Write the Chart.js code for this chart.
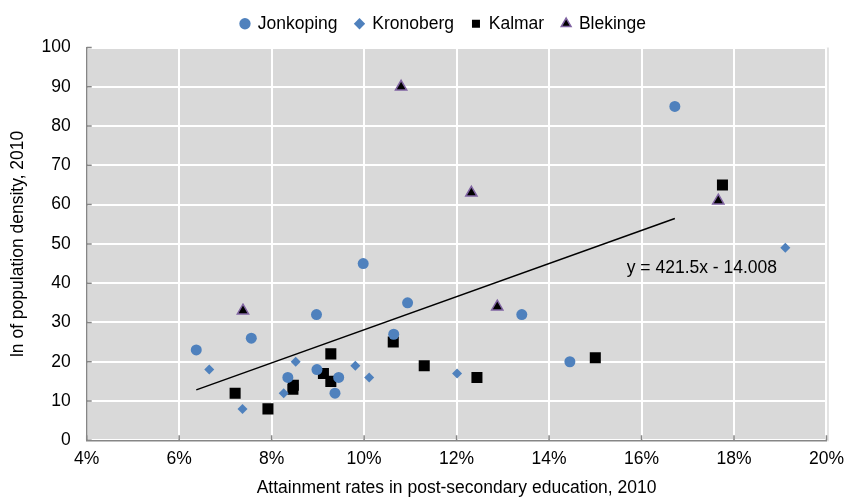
<!DOCTYPE html>
<html>
<head>
<meta charset="utf-8">
<script src="https://cdn.jsdelivr.net/npm/chart.js@4"></script>
<style>
  html, body { margin: 0; padding: 0; background: #fff; }
  #myChart { display: block; }
</style>
</head>
<body>
<canvas id="myChart" width="852" height="499"></canvas>
<script>
// datos (x en %, y = ln densidad)
const jonkopingX = [6.37, 7.56, 8.35, 8.98, 8.97, 9.37, 9.45, 9.98, 10.64, 10.94, 13.41, 14.45, 16.72];
const jonkopingY = [23, 26, 16, 18, 32, 12, 16, 45, 27, 35, 32, 20, 85];

const kronobergX = [6.65, 7.37, 8.26, 8.52, 9.81, 10.11, 12.01, 19.11];
const kronobergY = [18, 8, 12, 20, 19, 16, 17, 49];

const kalmarX = [7.21, 7.92, 8.47, 8.46, 9.12, 9.28, 9.28, 10.63, 11.30, 12.44, 15.0, 17.75];
const kalmarY = [12, 8, 14, 13, 17, 22, 15, 25, 19, 16, 21, 65];

const blekingeX = [7.38, 10.80, 12.32, 12.88, 17.66];
const blekingeY = [33, 90, 63, 34, 61];

// linea de tendencia (Jonkoping)
const trendSlope = 421.5;
const trendIntercept = -14.008;
const trendX = [6.37, 16.72];
const trendLabel = 'y = 421.5x - 14.008';
const trendLabelAt = [15.68, 43.8];

const xTicks = [4, 6, 8, 10, 12, 14, 16, 18, 20];
const yTicks = [0, 10, 20, 30, 40, 50, 60, 70, 80, 90, 100];

const fuente = "'Liberation Sans', Arial, sans-serif";
const tamFuente = 17.5;

function puntos(xs, ys) {
  return xs.map((x, i) => ({ x: x, y: ys[i] }));
}

const fondoPlot = {
  id: 'fondoPlot',
  beforeUpdate(chart) {
    // ajustar el alto de la leyenda
    const leyenda = chart.legend;
    if (leyenda && !leyenda._ajustada) {
      const fitOriginal = leyenda.fit;
      leyenda.fit = function () {
        fitOriginal.call(this);
        this.height += 1;
      };
      leyenda._ajustada = true;
    }
  },
  afterLayout(chart) {
    const leyenda = chart.legend;
    if (leyenda) {
      leyenda.left += 28;
      leyenda.right += 28;
      leyenda.top -= 4;
      leyenda.bottom -= 4;
    }
  },
  beforeDraw(chart) {
    const { ctx, chartArea: a } = chart;
    ctx.save();
    ctx.fillStyle = '#D9D9D9';
    ctx.fillRect(a.left, a.top, a.right - a.left, a.bottom - a.top);
    ctx.strokeStyle = '#C8C8C8';
    ctx.lineWidth = 1;
    ctx.beginPath();
    ctx.moveTo(a.right + 1.5, a.top);
    ctx.lineTo(a.right + 1.5, a.bottom + 1);
    ctx.stroke();
    ctx.restore();
  },
  afterDraw(chart) {
    // marcas de ticks hacia dentro
    const { ctx, chartArea: a, scales } = chart;
    ctx.save();
    ctx.strokeStyle = '#868686';
    ctx.lineWidth = 1.5;
    ctx.beginPath();
    xTicks.forEach(v => {
      const px = scales.x.getPixelForValue(v);
      ctx.moveTo(px, a.bottom);
      ctx.lineTo(px, a.bottom - 5);
    });
    yTicks.forEach(v => {
      const py = scales.y.getPixelForValue(v);
      ctx.moveTo(a.left, py);
      ctx.lineTo(a.left + 5, py);
    });
    ctx.stroke();
    // ecuacion
    ctx.fillStyle = '#000';
    ctx.font = tamFuente + 'px ' + fuente;
    ctx.textAlign = 'left';
    ctx.textBaseline = 'middle';
    ctx.fillText(trendLabel, scales.x.getPixelForValue(trendLabelAt[0]), scales.y.getPixelForValue(trendLabelAt[1]));
    ctx.restore();
  }
};

const grafica = document.getElementById('myChart').getContext('2d');

new Chart(grafica, {
  type: 'scatter',
  data: {
    datasets: [
      {
        label: 'Jonkoping',
        data: puntos(jonkopingX, jonkopingY),
        pointStyle: 'circle',
        pointRadius: 5.5,
        backgroundColor: '#4F81BD',
        borderColor: '#4F81BD',
        borderWidth: 0
      },
      {
        label: 'Kronoberg',
        data: puntos(kronobergX, kronobergY),
        pointStyle: 'rectRot',
        pointRadius: 5,
        backgroundColor: '#4F81BD',
        borderColor: '#4F81BD',
        borderWidth: 0
      },
      {
        label: 'Kalmar',
        data: puntos(kalmarX, kalmarY),
        pointStyle: 'rect',
        pointRadius: 7.8,
        backgroundColor: '#000',
        borderColor: '#000',
        borderWidth: 0
      },
      {
        label: 'Blekinge',
        data: puntos(blekingeX, blekingeY),
        pointStyle: 'triangle',
        pointRadius: 6.5,
        backgroundColor: '#000',
        borderColor: '#8064A2',
        borderWidth: 1.5
      },
      {
        label: 'tendencia',
        type: 'line',
        data: trendX.map(x => ({ x: x, y: trendSlope * x / 100 + trendIntercept })),
        borderColor: '#000',
        borderWidth: 1.5,
        pointRadius: 0,
        fill: false
      }
    ]
  },
  options: {
    responsive: false,
    animation: false,
    layout: {
      padding: { left: 0, right: 21, top: 1, bottom: 0 }
    },
    plugins: {
      legend: {
        position: 'top',
        labels: {
          usePointStyle: true,
          boxWidth: 8,
          boxHeight: 8,
          padding: 18,
          color: '#000',
          font: { family: fuente, size: tamFuente },
          filter: item => item.text !== 'tendencia'
        }
      },
      tooltip: { enabled: false }
    },
    scales: {
      x: {
        type: 'linear',
        min: 4,
        max: 20,
        afterFit: s => { s.height = 58.7; },
        afterBuildTicks: s => { s.ticks = xTicks.map(v => ({ value: v })); },
        ticks: {
          callback: v => v + '%',
          color: '#000',
          padding: 8,
          font: { family: fuente, size: tamFuente }
        },
        grid: { color: '#FFFFFF', lineWidth: 2, drawTicks: false },
        border: { display: true, color: '#868686', width: 1.5 },
        title: {
          display: true,
          text: 'Attainment rates in post-secondary education, 2010',
          color: '#000',
          font: { family: fuente, size: tamFuente },
          padding: { top: 4, bottom: 0 }
        }
      },
      y: {
        min: 0,
        max: 100,
        afterFit: s => { s.width = 86.7; },
        afterBuildTicks: s => { s.ticks = yTicks.map(v => ({ value: v })); },
        ticks: {
          color: '#000',
          padding: 16,
          font: { family: fuente, size: tamFuente }
        },
        grid: { color: '#FFFFFF', lineWidth: 2, drawTicks: false },
        border: { display: true, color: '#868686', width: 1.5 },
        title: {
          display: true,
          text: 'ln of population density, 2010',
          color: '#000',
          font: { family: fuente, size: tamFuente },
          padding: { top: 8, bottom: 0 }
        }
      }
    }
  },
  plugins: [fondoPlot]
});
</script>
</body>
</html>
